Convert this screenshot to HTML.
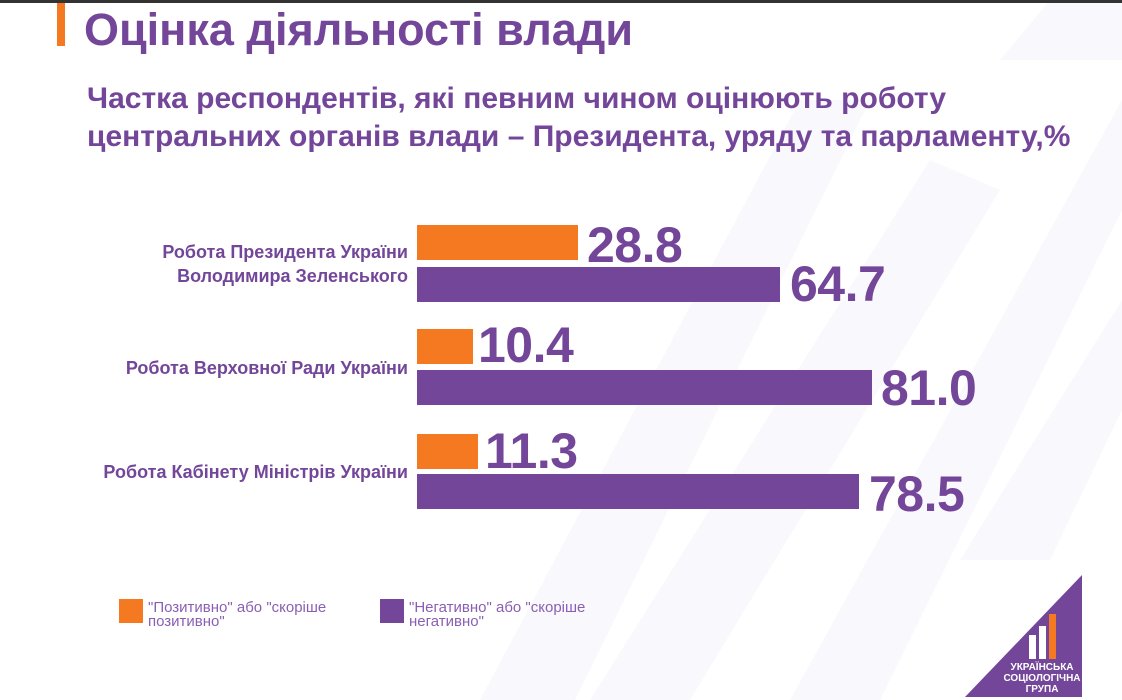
<!DOCTYPE html>
<html><head><meta charset="utf-8"><style>
body{margin:0;width:1122px;height:700px;overflow:hidden;background:#fff;position:relative;font-family:"Liberation Sans",sans-serif;}
.a{position:absolute;}
.t{color:#734699;font-weight:bold;white-space:nowrap;}
.bo{position:absolute;left:417px;height:35px;background:#F47920;}
.bp{position:absolute;left:417px;height:35px;background:#734699;}
.n{position:absolute;color:#734699;font-weight:bold;font-size:50px;letter-spacing:-0.5px;line-height:50px;}
.lbl{position:absolute;right:714px;text-align:right;color:#734699;font-weight:bold;font-size:18px;line-height:24px;white-space:nowrap;}
.lg{position:absolute;color:#8a5fb3;font-size:15px;line-height:14px;}
</style></head><body>
<svg class="a" style="left:0;top:0" width="1122" height="700">
<polygon points="480,700 575,700 870,100 800,100" fill="#f9f8fc"/>
<polygon points="590,700 690,700 1000,190 930,160" fill="#f9f8fc"/>
<polygon points="790,700 880,700 1122,210 1122,100" fill="#f9f8fc"/>
<polygon points="960,560 1050,560 1122,410 1122,300" fill="#f9f8fc"/>
<polygon points="1050,0 1122,0 1122,60 1000,60" fill="#f9f8fc"/>
<rect x="0" y="0" width="1122" height="3" fill="#333"/>
<rect x="57" y="3" width="8" height="43" fill="#F47920"/>
<polygon points="1082,575 1082,697 965,697" fill="#734699"/>
<rect x="1029" y="635" width="7" height="24" fill="#fff"/>
<rect x="1039" y="626" width="7" height="33" fill="#fff"/>
<rect x="1049" y="614" width="7" height="45" fill="#F47920"/>
<text x="1042" y="670" fill="#fff" font-size="10" font-weight="bold" text-anchor="middle" font-family="Liberation Sans">УКРАЇНСЬКА</text>
<text x="1042" y="681" fill="#fff" font-size="10" font-weight="bold" text-anchor="middle" font-family="Liberation Sans">СОЦІОЛОГІЧНА</text>
<text x="1042" y="692" fill="#fff" font-size="10" font-weight="bold" text-anchor="middle" font-family="Liberation Sans">ГРУПА</text>
</svg>
<div class="a t" style="left:84px;top:4px;font-size:45px;line-height:52px;">Оцінка діяльності влади</div>
<div class="a t" style="left:87px;top:80px;font-size:30px;line-height:38px;">Частка респондентів, які певним чином оцінюють роботу<br>центральних органів влади – Президента, уряду та парламенту,%</div>

<div class="lbl" style="top:240px">Робота Президента України<br>Володимира Зеленського</div>
<div class="lbl" style="top:356px">Робота Верховної Ради України</div>
<div class="lbl" style="top:460px">Робота Кабінету Міністрів України</div>

<div class="bo" style="top:225px;width:161px"></div><div class="n" style="left:587px;top:220px">28.8</div>
<div class="bp" style="top:267px;width:363px"></div><div class="n" style="left:790px;top:259px">64.7</div>
<div class="bo" style="top:329px;width:56px"></div><div class="n" style="left:478px;top:320px">10.4</div>
<div class="bp" style="top:370px;width:455px"></div><div class="n" style="left:881px;top:363px">81.0</div>
<div class="bo" style="top:434px;width:61px"></div><div class="n" style="left:485px;top:426px">11.3</div>
<div class="bp" style="top:474px;width:442px"></div><div class="n" style="left:869px;top:469px">78.5</div>

<div class="a" style="left:119px;top:599px;width:24px;height:24px;background:#F47920"></div>
<div class="lg" style="left:148px;top:601px">"Позитивно" або "скоріше<br>позитивно"</div>
<div class="a" style="left:380px;top:599px;width:24px;height:24px;background:#734699"></div>
<div class="lg" style="left:409px;top:601px">"Негативно" або "скоріше<br>негативно"</div>
</body></html>
